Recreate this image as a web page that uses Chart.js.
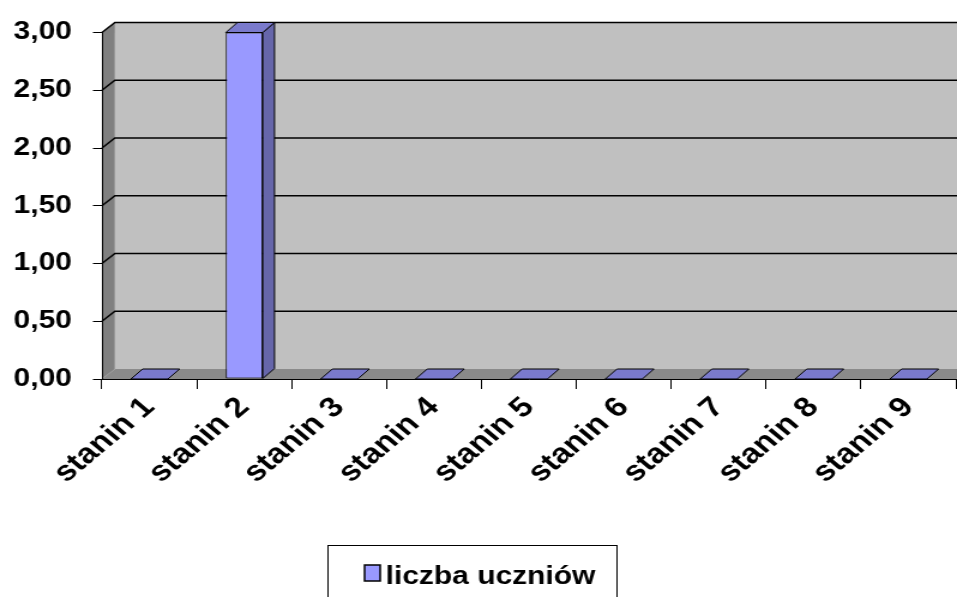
<!DOCTYPE html>
<html><head><meta charset="utf-8">
<script src="https://cdn.jsdelivr.net/npm/chart.js@4/dist/chart.umd.min.js"></script>
<style>
html,body{margin:0;padding:0;background:#fff;overflow:hidden}
#c{display:block;width:957px;height:597px}
</style>
</head><body>
<canvas id="c" width="798" height="597" style="width:957px;height:597px"></canvas>
<script>
const categories = ['stanin 1','stanin 2','stanin 3','stanin 4','stanin 5','stanin 6','stanin 7','stanin 8','stanin 9'];
const seriesName = 'liczba uczniów';
const seriesValues = [0, 3, 0, 0, 0, 0, 0, 0, 0];
const yTickValues = [0, 0.5, 1, 1.5, 2, 2.5, 3];

const FONT = '"Liberation Sans", Arial, sans-serif';
const WALL_DX = 10.8, WALL_DY = 10;
const BAR_DX = 9.8, BAR_DY = 10;

function poly(ctx, pts, fill, stroke, lw) {
  ctx.beginPath();
  ctx.moveTo(pts[0][0], pts[0][1]);
  for (let i = 1; i < pts.length; i++) ctx.lineTo(pts[i][0], pts[i][1]);
  ctx.closePath();
  if (fill) { ctx.fillStyle = fill; ctx.fill(); }
  if (stroke) { ctx.strokeStyle = stroke; ctx.lineWidth = lw || 1; ctx.stroke(); }
}

const threeD = {
  id: 'threeD',
  beforeDraw(chart) {
    const ctx = chart.ctx;
    const {left, right, top, bottom} = chart.chartArea;
    const y = chart.scales.y;
    ctx.save();
    poly(ctx, [[left+WALL_DX, top-WALL_DY],[right+WALL_DX+20, top-WALL_DY],[right+WALL_DX+20, bottom-WALL_DY],[left+WALL_DX, bottom-WALL_DY]], '#C0C0C0');
    poly(ctx, [[left, top],[left+WALL_DX, top-WALL_DY],[left+WALL_DX, bottom-WALL_DY],[left, bottom]], '#808080');
    poly(ctx, [[left, bottom],[left+WALL_DX, bottom-WALL_DY],[right+WALL_DX+20, bottom-WALL_DY],[right, bottom]], '#8a8a8a');
    ctx.strokeStyle = '#000';
    ctx.lineWidth = 1.5;
    y.ticks.forEach(t => {
      if (t.value === 0) return;
      const py = y.getPixelForValue(t.value);
      ctx.beginPath();
      ctx.moveTo(left, py);
      ctx.lineTo(left+WALL_DX, py-WALL_DY);
      ctx.lineTo(right+WALL_DX+20, py-WALL_DY);
      ctx.stroke();
    });
    ctx.restore();
  },
  afterDatasetsDraw(chart) {
    const ctx = chart.ctx;
    const meta = chart.getDatasetMeta(0);
    ctx.save();
    meta.data.forEach(bar => {
      const p = bar.getProps(['x','y','base','width'], true);
      const l = p.x - p.width/2, r = p.x + p.width/2;
      if (p.base - p.y > 0.5) {
        poly(ctx, [[r, p.y],[r+BAR_DX, p.y-BAR_DY],[r+BAR_DX, p.base-BAR_DY],[r, p.base]], '#6666AA', '#000', 1);
      }
      poly(ctx, [[l, p.y],[r, p.y],[r+BAR_DX, p.y-BAR_DY],[l+BAR_DX, p.y-BAR_DY]], '#7A7ACC', '#000', 1);
    });
    ctx.restore();
  },
  afterDraw(chart) {
    const ctx = chart.ctx;
    ctx.save();
    const bx = 273.5, by = 545.5, bw = 241, bh = 70;
    ctx.strokeStyle = '#000';
    ctx.lineWidth = 1;
    ctx.strokeRect(bx, by, bw, bh);
    ctx.fillStyle = '#9999FF';
    ctx.fillRect(304, 565, 13, 16);
    ctx.lineWidth = 1.5;
    ctx.strokeRect(304, 565, 13, 16);
    ctx.fillStyle = '#000';
    ctx.font = 'bold 25px ' + FONT;
    ctx.textBaseline = 'alphabetic';
    ctx.textAlign = 'left';
    ctx.fillText(seriesName, 321.5, 583.5);
    ctx.restore();
  }
};

new Chart(document.getElementById('c'), {
  type: 'bar',
  data: {
    labels: categories,
    datasets: [{
      label: seriesName,
      data: seriesValues,
      backgroundColor: '#9999FF',
      borderColor: '#000',
      borderWidth: 1,
      borderSkipped: false,
      barPercentage: 0.39,
      categoryPercentage: 1.0
    }]
  },
  options: {
    responsive: false,
    animation: false,
    devicePixelRatio: 1,
    layout: { padding: { top: 29.5, right: 1, bottom: 0, left: 0 } },
    plugins: { legend: { display: false }, tooltip: { enabled: false } },
    scales: {
      x: {
        offset: true,
        grid: { offset: true, drawOnChartArea: false, drawTicks: true, tickLength: 10, color: '#000', lineWidth: 1 },
        border: { display: true, color: '#000', width: 1 },
        ticks: {
          autoSkip: false, minRotation: 45, maxRotation: 45, padding: 2,
          color: '#000', font: { family: FONT, size: 28, weight: 'bold' }
        },
        afterFit(scale) { scale.height = 218; }
      },
      y: {
        min: 0, max: 3,
        afterBuildTicks(scale) { scale.ticks = yTickValues.map(v => ({ value: v })); },
        grid: { drawOnChartArea: false, drawTicks: true, tickLength: 7.5, color: '#000', lineWidth: 1 },
        border: { display: true, color: '#000', width: 1 },
        ticks: {
          padding: 17.5, color: '#000',
          font: { family: FONT, size: 25, weight: 'bold' },
          callback: v => Number(v).toFixed(2).replace('.', ',')
        },
        afterFit(scale) { scale.width = 85; }
      }
    }
  },
  plugins: [threeD]
});
</script>
</body></html>
